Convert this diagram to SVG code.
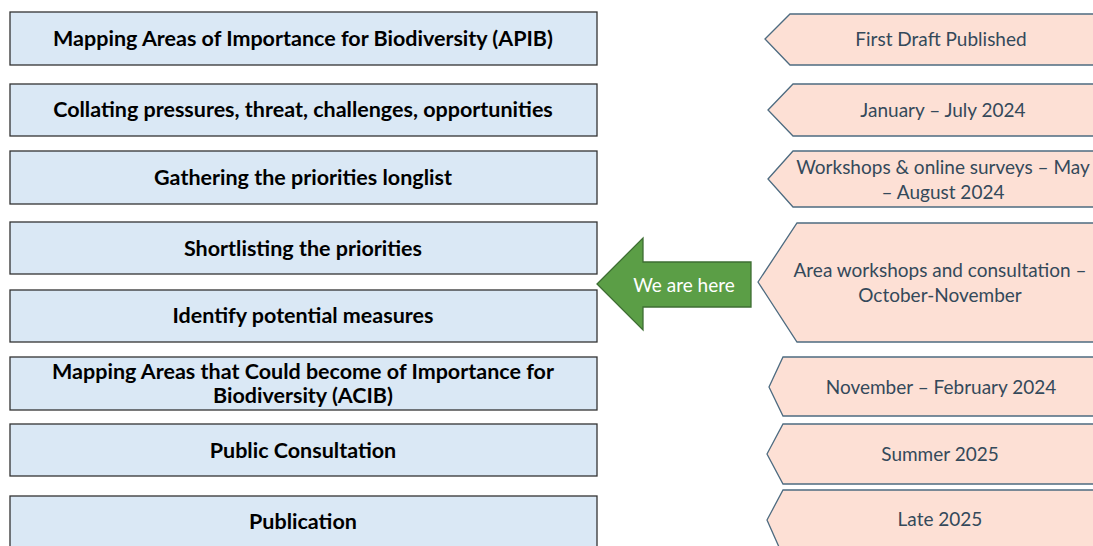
<svg xmlns="http://www.w3.org/2000/svg" width="1093" height="546" viewBox="0 0 1093 546">
<style>
.box{fill:#dae8f5;stroke:#333;stroke-width:1.3}
.chev{fill:#fde0d5;stroke:#4d6b80;stroke-width:1.3}
.lt{font-family:Lato,"Open Sans",sans-serif;font-weight:bold;font-size:21.5px;fill:#000;text-anchor:middle;dominant-baseline:central}
.rt{font-family:Lato,"Open Sans",sans-serif;font-size:19px;fill:#34495a;text-anchor:middle;dominant-baseline:central}
</style>
<rect width="1093" height="546" fill="#fff"/>
<g id="step1"><rect class="box" x="10" y="12" width="587" height="53"/><text class="lt" x="303" y="38">Mapping Areas of Importance for Biodiversity (APIB)</text></g>
<g id="step2"><rect class="box" x="10" y="84" width="587" height="52"/><text class="lt" x="303" y="109">Collating pressures, threat, challenges, opportunities</text></g>
<g id="step3"><rect class="box" x="10" y="151" width="587" height="53"/><text class="lt" x="303" y="177">Gathering the priorities longlist</text></g>
<g id="step4"><rect class="box" x="10" y="222" width="587" height="52"/><text class="lt" x="303" y="248">Shortlisting the priorities</text></g>
<g id="step5"><rect class="box" x="10" y="290" width="587" height="52"/><text class="lt" x="303" y="315">Identify potential measures</text></g>
<g id="step6"><rect class="box" x="10" y="357" width="587" height="53"/><text class="lt" x="303" y="371">Mapping Areas that Could become of Importance for</text><text class="lt" x="303" y="395">Biodiversity (ACIB)</text></g>
<g id="step7"><rect class="box" x="10" y="424" width="587" height="52"/><text class="lt" x="303" y="450">Public Consultation</text></g>
<g id="step8"><rect class="box" x="10" y="496" width="587" height="60"/><text class="lt" x="303" y="521">Publication</text></g>

<g id="time1"><polygon class="chev" points="765,39 790,14 1100,14 1100,65 790,65"/><text class="rt" x="941" y="38">First Draft Published</text></g>
<g id="time2"><polygon class="chev" points="768,110 793,84 1100,84 1100,136 793,136"/><text class="rt" x="943" y="109">January – July 2024</text></g>
<g id="time3"><polygon class="chev" points="768,179 793,151 1100,151 1100,207 793,207"/><text class="rt" x="943" y="166">Workshops &amp; online surveys – May</text><text class="rt" x="943" y="191">– August 2024</text></g>
<g id="time4"><polygon class="chev" points="758,282 797,223 1100,223 1100,342 797,342"/><text class="rt" x="940" y="269">Area workshops and consultation –</text><text class="rt" x="940" y="294">October-November</text></g>
<g id="time5"><polygon class="chev" points="769,387 783,357 1100,357 1100,416 783,416"/><text class="rt" x="941" y="386">November – February 2024</text></g>
<g id="time6"><polygon class="chev" points="767,454 783,424 1100,424 1100,484 783,484"/><text class="rt" x="940" y="453">Summer 2025</text></g>
<g id="time7"><polygon class="chev" points="767,520 783,490 1100,490 1100,556 783,556"/><text class="rt" x="940" y="518">Late 2025</text></g>

<g id="connectors">
<g id="here"><polygon points="597,284 643,238 643,262 751,262 751,307 643,307 643,330" fill="#5b9e46" stroke="#3e6e33" stroke-width="1.3"/><text x="684" y="284" font-family="Lato,'Open Sans',sans-serif" font-size="19" fill="#fff" text-anchor="middle" dominant-baseline="central">We are here</text></g>
</g>
</svg>
